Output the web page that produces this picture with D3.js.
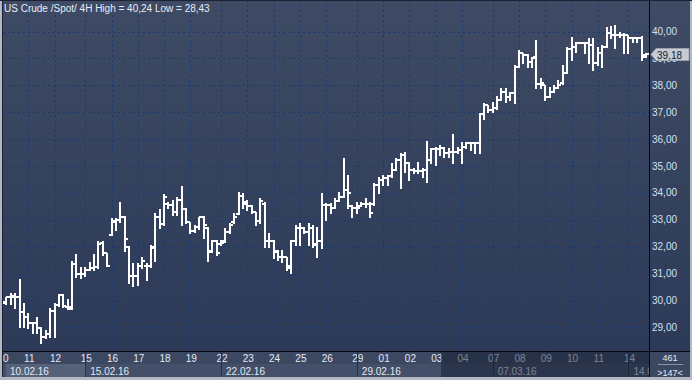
<!DOCTYPE html>
<html>
<head>
<meta charset="utf-8">
<script src="https://cdn.jsdelivr.net/npm/d3@7"></script>
<style>
body { margin: 0; background: #3e4a63; overflow: hidden; }
text { font-family: "Liberation Sans", Arial, sans-serif; }
</style>
</head>
<body>
<div id="chart"></div>
<script>
// 4H bars (index 0 = first bar of 10.02.16)
var opens  = [29.95,29.92,30.12,30.14,30.14,29.58,29.40,29.15,29.15,28.98,28.66,28.75,29.60,29.85,30.20,29.75,29.75,31.35,30.97,31.00,
              31.15,31.20,31.25,32.15,31.75,32.45,32.90,33.00,33.10,32.00,30.90,30.90,31.30,31.30,31.30,31.95,33.10,32.85,33.60,33.55,
              33.30,33.75,33.40,32.90,32.60,32.75,33.10,32.70,31.85,32.20,32.10,32.20,32.55,32.90,33.20,33.90,33.60,33.50,33.30,32.95,
              33.60,32.20,32.20,31.85,31.60,31.60,31.20,32.20,32.70,32.70,32.55,32.70,32.10,32.20,33.55,33.55,33.45,33.70,33.85,34.11,
              33.50,33.43,33.50,33.60,33.60,33.60,34.29,34.48,34.55,34.63,34.85,35.22,35.40,35.10,34.85,34.83,34.83,34.85,35.22,35.62,
              35.62,35.66,35.47,35.53,35.53,35.60,35.72,35.84,35.84,35.87,36.93,37.25,37.10,37.14,37.45,37.76,37.58,37.73,38.69,39.19,
              39.13,38.88,39.05,38.05,38.00,37.58,37.76,37.89,38.10,38.45,39.34,39.44,39.56,39.58,39.56,39.50,38.82,39.19,39.44,39.93,
              39.87,39.87,39.87,39.87,39.75,39.75,39.75,39.13];
var highs  = [30.10,30.14,30.27,30.27,30.81,29.89,29.52,29.21,29.40,29.03,28.90,29.71,29.89,30.23,30.23,30.06,31.47,31.73,31.26,31.26,
              31.44,31.73,32.22,32.22,31.75,33.08,33.05,33.65,33.14,32.03,31.38,31.38,31.60,31.38,32.06,33.27,33.39,33.96,33.65,33.74,
              33.86,34.26,33.43,32.93,32.81,33.12,33.15,32.75,32.25,32.25,32.25,32.68,32.87,33.24,34.05,33.98,33.74,33.55,33.30,33.82,
              33.67,32.50,32.25,31.88,31.88,31.63,32.25,32.81,32.87,32.74,32.87,32.81,32.74,34.01,33.61,33.61,33.80,34.05,35.28,34.67,
              33.55,33.67,33.67,33.80,33.67,34.35,34.60,34.67,34.67,35.10,35.29,35.47,35.53,35.16,34.91,35.16,34.91,35.94,35.66,35.72,
              35.78,35.72,35.66,36.19,35.72,35.91,35.91,35.91,35.91,36.96,37.33,37.27,37.39,37.60,37.89,37.89,37.76,38.76,39.31,39.19,
              39.15,39.06,39.68,38.26,38.00,37.95,38.01,38.20,38.76,39.44,39.81,39.62,39.62,39.62,39.75,39.75,39.44,39.50,40.16,40.20,
              40.24,39.99,39.93,39.87,39.81,39.81,39.83,39.19];
var lows   = [29.90,29.86,29.86,29.71,29.03,29.03,28.97,28.78,28.78,28.43,28.59,28.66,28.66,29.80,29.77,29.67,29.70,30.89,30.82,30.91,
              31.13,31.13,31.20,31.69,31.28,32.43,32.62,32.93,31.85,30.64,30.55,30.58,31.20,30.76,31.26,31.48,32.68,32.80,33.43,33.18,
              33.18,32.81,32.87,32.50,32.56,32.64,32.34,31.48,31.82,31.69,32.06,32.19,32.50,32.87,33.20,33.43,33.36,33.24,32.81,32.87,
              32.00,32.00,31.57,31.51,31.44,31.13,31.02,32.06,32.06,32.50,32.06,32.00,31.63,31.94,32.99,33.24,33.45,33.70,33.85,33.43,
              33.12,33.24,33.50,33.49,33.12,33.55,33.98,34.29,34.29,34.60,34.85,34.17,34.79,34.48,34.73,34.73,34.60,34.42,35.10,35.04,
              35.41,35.35,35.35,35.10,35.47,35.10,35.66,35.60,35.47,35.47,36.75,37.02,37.02,37.12,37.45,37.39,37.45,37.33,38.69,38.82,
              38.69,38.69,37.89,37.89,37.45,37.58,37.76,37.89,38.05,38.45,38.94,39.25,39.56,39.19,38.82,38.57,38.76,38.69,39.44,39.75,
              39.37,39.81,39.19,39.19,39.62,39.62,38.94,39.06];
var closes = [29.93,30.12,30.15,30.14,29.58,29.40,29.15,29.15,28.98,28.66,28.75,29.60,29.85,30.20,29.80,29.70,31.35,30.97,31.00,31.15,
              31.20,31.25,32.10,31.75,31.30,32.95,33.00,33.12,32.27,30.90,30.90,31.30,31.45,31.30,32.00,33.10,32.85,33.85,33.55,33.30,
              33.75,33.40,32.90,32.60,32.75,33.10,32.80,31.82,32.20,31.75,32.15,32.55,32.80,33.10,33.90,33.65,33.50,33.30,32.95,33.70,
              32.20,32.20,31.80,31.60,31.60,31.30,32.20,32.70,32.70,32.55,32.70,32.05,32.20,33.55,33.55,33.45,33.70,33.85,34.11,33.98,
              33.43,33.43,33.60,33.60,33.25,34.29,34.48,34.55,34.63,34.85,35.22,35.41,35.10,34.85,34.83,34.83,34.85,35.22,35.62,35.62,
              35.66,35.47,35.53,35.53,35.60,35.72,35.84,35.84,35.84,36.93,37.25,37.10,37.14,37.45,37.76,37.58,37.73,38.69,39.19,39.13,
              38.88,39.00,38.05,38.07,37.58,37.76,37.89,38.01,38.45,39.34,39.44,39.56,39.58,39.56,39.50,38.82,39.19,39.44,39.93,39.87,
              39.87,39.87,39.87,39.75,39.75,39.75,39.06,39.18];

// day and week labels with the bar index where they start
var dayLabels = ["10","11","12","15","16","17","18","19","22","23","24","25","26","29","01","02","03","04","07","08","09","10","11","14"];
var dayStart  = [0,6,12,19,25,31,37,43,50,56,62,68,74,81,87,93,99,105,112,118,124,130,136,143];
var weekLabels = ["10.02.16","15.02.16","22.02.16","29.02.16","07.03.16","14.03.16"];
var weekStart  = [0,19,50,81,112,143];
var priceTicks = [29,30,31,32,33,34,35,36,37,38,39,40];
var lastPrice = 39.18;
var barsTotal = 461, barsShown = 147;
var dimFrom = 100.2; // bars after this index are shaded on the time axis

var W = 692, H = 380;
var plot = {left: 3, right: 649, top: 0, bottom: 351};

var svg = d3.select("#chart")
  .append("svg")
    .attr("width", W)
    .attr("height", H);

var defs = svg.append("defs");
var grad = defs.append("linearGradient")
  .attr("id", "bg").attr("x1", 0).attr("y1", 0).attr("x2", 0).attr("y2", 1);
grad.append("stop").attr("offset", "0%").attr("stop-color", "#3f4b64");
grad.append("stop").attr("offset", "100%").attr("stop-color", "#2c3a58");
defs.append("clipPath").attr("id", "plotClip")
  .append("rect")
    .attr("x", plot.left).attr("y", plot.top)
    .attr("width", plot.right - plot.left).attr("height", plot.bottom - plot.top);
defs.append("clipPath").attr("id", "timeClip")
  .append("rect")
    .attr("x", plot.left).attr("y", plot.bottom)
    .attr("width", plot.right - plot.left).attr("height", H - plot.bottom);

// scales
var x = d3.scaleLinear().domain([0, 147]).range([2, 646]);
var y = d3.scaleLinear().domain([29, 40]).range([327.4, 31.5]);
var fmt = function(v) { return d3.format(".2f")(v).replace(".", ","); };

// background of plot + price axis
svg.append("rect")
  .attr("x", 0).attr("y", 0).attr("width", W).attr("height", plot.bottom)
  .attr("fill", "url(#bg)");

// time axis area
svg.append("rect")
  .attr("x", 0).attr("y", plot.bottom).attr("width", W).attr("height", H - plot.bottom)
  .attr("fill", "#3c4862");
svg.append("rect")
  .attr("x", 0).attr("y", 364).attr("width", W).attr("height", 13)
  .attr("fill", "#44506a");

// grid
var grid = svg.append("g").attr("clip-path", "url(#plotClip)");
grid.selectAll(".hgrid")
  .data(priceTicks)
  .enter()
  .append("line")
    .attr("x1", plot.left).attr("x2", plot.right)
    .attr("y1", function(d) { return Math.round(y(d)) + 0.5; })
    .attr("y2", function(d) { return Math.round(y(d)) + 0.5; })
    .attr("stroke", "#173a72")
    .attr("stroke-dasharray", "2,3");
grid.selectAll(".vgrid")
  .data(dayStart)
  .enter()
  .append("line")
    .attr("x1", function(d) { return Math.round(x(d)) + 0.5; })
    .attr("x2", function(d) { return Math.round(x(d)) + 0.5; })
    .attr("y1", plot.top).attr("y2", plot.bottom)
    .attr("stroke", "#173a72")
    .attr("stroke-dasharray", "2,3");

// OHLC bars
var bars = svg.append("g").attr("clip-path", "url(#plotClip)");
bars.selectAll("path")
  .data(d3.range(opens.length))
  .enter()
  .append("path")
    .attr("d", function(i) {
      var cx = Math.round(x(i));
      return "M" + cx + "," + Math.round(y(highs[i])) + "V" + (Math.round(y(lows[i])) + 1) +
             "M" + (cx - 3) + "," + Math.round(y(opens[i])) + "H" + cx +
             "M" + cx + "," + Math.round(y(closes[i])) + "H" + (cx + 3);
    })
    .attr("fill", "none")
    .attr("stroke", "#ffffff")
    .attr("stroke-width", 2);

// time axis contents, clipped to the plot width
var timeAxis = svg.append("g").attr("clip-path", "url(#timeClip)");

// first box of the week band is highlighted
timeAxis.append("rect")
  .attr("x", 6).attr("y", 364)
  .attr("width", Math.round(x(weekStart[1])) - 6).attr("height", 13)
  .attr("fill", "#56627a");

// day tick labels
timeAxis.selectAll(".day")
  .data(dayLabels)
  .enter()
  .append("text")
    .attr("x", function(d, i) { return x(dayStart[i]) + 1; })
    .attr("y", 362)
    .attr("text-anchor", "middle")
    .attr("font-size", "10px")
    .attr("fill", "#e4e9f2")
    .text(function(d) { return d; });

// week separators and labels
timeAxis.selectAll(".wsep")
  .data(weekStart.slice(1))
  .enter()
  .append("line")
    .attr("x1", function(d) { return Math.round(x(d)) + 0.5; })
    .attr("x2", function(d) { return Math.round(x(d)) + 0.5; })
    .attr("y1", plot.bottom).attr("y2", 377)
    .attr("stroke", "#26304a");
timeAxis.selectAll(".week")
  .data(weekLabels)
  .enter()
  .append("text")
    .attr("x", function(d, i) { return (i == 0 ? 10 : x(weekStart[i]) + 5); })
    .attr("y", 375)
    .attr("font-size", "10px")
    .attr("fill", "#e4e9f2")
    .text(function(d) { return d; });

// shaded part of the time axis
timeAxis.append("rect")
  .attr("x", Math.round(x(dimFrom))).attr("y", plot.bottom + 1)
  .attr("width", plot.right - Math.round(x(dimFrom))).attr("height", 377 - plot.bottom - 1)
  .attr("fill", "#121a2e")
  .attr("opacity", 0.5);

// price axis box on the bottom right
svg.append("rect")
  .attr("x", plot.right).attr("y", plot.bottom)
  .attr("width", W - plot.right).attr("height", 377 - plot.bottom)
  .attr("fill", "#3c4862");
svg.append("text")
  .attr("x", 670).attr("y", 361).attr("text-anchor", "middle")
  .attr("font-size", "9px").attr("fill", "#e4e9f2")
  .text(barsTotal);
svg.append("line")
  .attr("x1", 658).attr("x2", 683).attr("y1", 364.5).attr("y2", 364.5)
  .attr("stroke", "#8893a8");
svg.append("text")
  .attr("x", 670).attr("y", 375.5).attr("text-anchor", "middle")
  .attr("font-size", "9px").attr("fill", "#e4e9f2")
  .text(">" + barsShown + "<");

// axis lines
svg.append("line")
  .attr("x1", plot.left).attr("x2", W).attr("y1", plot.bottom + 0.5).attr("y2", plot.bottom + 0.5)
  .attr("stroke", "#05080f");
svg.append("line")
  .attr("x1", plot.right + 0.5).attr("x2", plot.right + 0.5).attr("y1", 0).attr("y2", 377)
  .attr("stroke", "#05080f");

// price labels
svg.selectAll(".price")
  .data(priceTicks)
  .enter()
  .append("text")
    .attr("x", 652)
    .attr("y", function(d) { return y(d) + 3.5; })
    .attr("font-size", "10px")
    .attr("fill", "#cfe0f6")
    .text(fmt);

// last price marker
var py = Math.round(y(lastPrice)) + 0.5;
svg.append("path")
  .attr("d", "M651," + py + "L656," + (py - 6) + "H689V" + (py + 6) + "H656Z")
  .attr("fill", "#c6cad2")
  .attr("stroke", "#9aa1ad");
svg.append("text")
  .attr("x", 657).attr("y", py + 4)
  .attr("font-size", "10px").attr("fill", "#111827")
  .text(fmt(lastPrice));

// title
svg.append("text")
  .attr("x", 4).attr("y", 12)
  .attr("font-size", "10px")
  .attr("fill", "#e8edf5")
  .text("US Crude /Spot/ 4H High = " + fmt(d3.max(highs)) + " Low = " + fmt(d3.min(lows)));

// frame
svg.append("rect").attr("x", 0).attr("y", 0).attr("width", 2).attr("height", H).attr("fill", "#b2b9c5");
svg.append("line").attr("x1", 2.5).attr("x2", 2.5).attr("y1", 0).attr("y2", 377).attr("stroke", "#1c2233");
svg.append("rect").attr("x", 0).attr("y", 377).attr("width", W).attr("height", 3).attr("fill", "#b2b9c5");
svg.append("rect").attr("x", 690).attr("y", 0).attr("width", 2).attr("height", H).attr("fill", "#b2b9c5");
svg.append("line").attr("x1", 0).attr("x2", W).attr("y1", 0.5).attr("y2", 0.5).attr("stroke", "#1c2233");
</script>
</body>
</html>
